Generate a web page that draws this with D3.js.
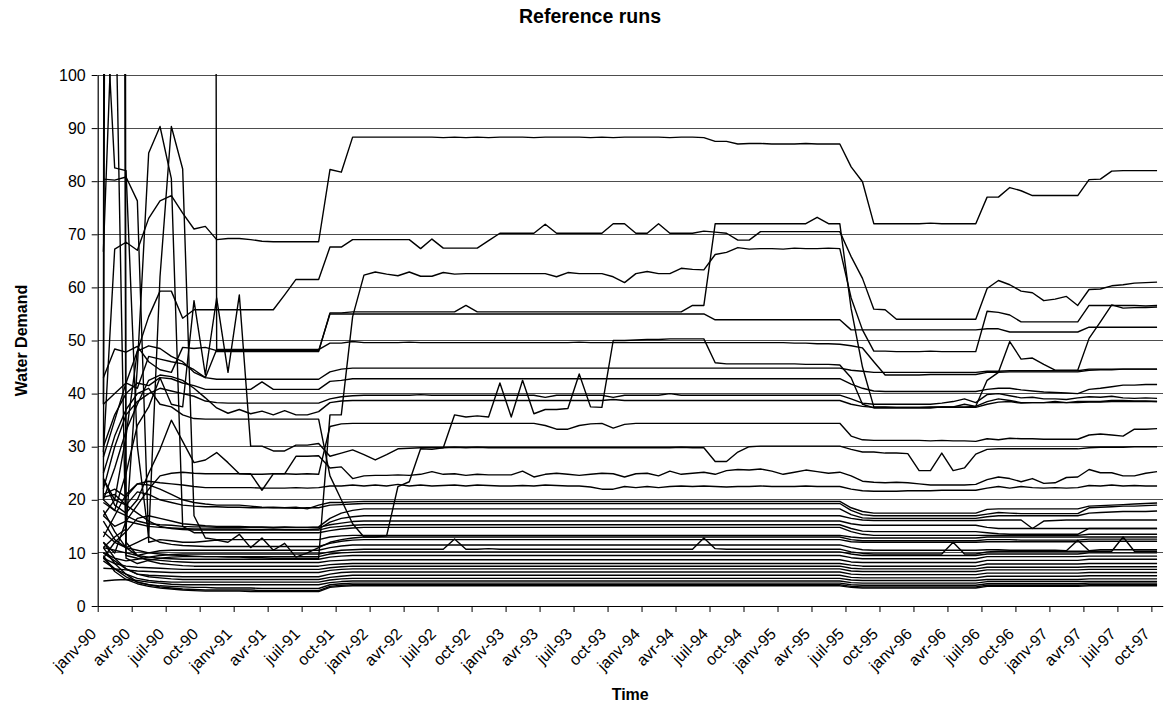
<!DOCTYPE html>
<html>
<head>
<meta charset="utf-8">
<script src="https://cdnjs.cloudflare.com/ajax/libs/d3/7.8.5/d3.min.js"></script>
<style>
  body { margin: 0; background: #fff; }
  svg { display: block; font-family: "Liberation Sans", Arial, sans-serif; }
</style>
</head>
<body>
<svg id="chart" width="1170" height="706"></svg>
<script>
// Monthly axis labels (one every three months)
const tickLabels = [
  "janv-90","avr-90","juil-90","oct-90","janv-91","avr-91","juil-91","oct-91",
  "janv-92","avr-92","juil-92","oct-92","janv-93","avr-93","juil-93","oct-93",
  "janv-94","avr-94","juil-94","oct-94","janv-95","avr-95","juil-95","oct-95",
  "janv-96","avr-96","juil-96","oct-96","janv-97","avr-97","juil-97","oct-97"
];
const yTickValues = [0,10,20,30,40,50,60,70,80,90,100];

// Water demand per run, monthly from janv-90 to oct-97 (one row per year)
const run01 = [
29.0,67.2,68.5,67.0,73.0,76.3,77.3,74.0,71.0,71.5,69.0,69.2,
69.2,69.0,68.7,68.6,68.6,68.6,68.6,68.6,82.2,81.7,88.3,88.3,
88.3,88.3,88.3,88.3,88.3,88.3,88.2,88.3,88.2,88.3,88.2,88.3,
88.3,88.3,88.2,88.3,88.3,88.3,88.3,88.2,88.3,88.2,88.3,88.3,
88.3,88.3,88.2,88.3,88.3,88.2,87.5,87.5,87.0,87.1,87.1,87.0,
87.0,87.0,87.1,87.0,87.0,87.0,82.7,79.9,72.0,72.0,72.0,72.0,
72.0,72.1,72.0,72.0,72.0,72.0,77.0,77.0,78.8,78.2,77.3,77.3,
77.3,77.3,77.3,80.3,80.4,81.9,82.0,82.0,82.0,82.0];
const run02 = [
24.0,20.0,32.0,48.0,54.5,59.3,59.3,54.2,55.8,55.8,55.8,55.8,
55.8,55.8,55.8,55.8,58.6,61.5,61.5,61.5,67.6,67.6,69.0,69.0,
69.0,69.0,69.0,69.0,67.3,69.1,67.4,67.4,67.4,67.4,68.8,70.2,
70.2,70.2,70.2,71.9,70.2,70.2,70.2,70.2,70.2,72.0,72.0,70.2,
70.2,72.0,70.2,70.2,70.2,70.6,70.4,70.2,68.9,68.9,70.5,70.5,
70.5,70.5,70.5,70.5,70.5,70.5,65.8,61.7,55.9,55.8,54.0,54.0,
54.0,54.0,54.0,54.0,54.0,54.0,59.8,61.3,60.5,59.3,59.0,57.5,
57.8,58.3,56.6,59.6,59.7,60.3,60.5,60.8,60.9,61.0];
const run03 = [
16.0,12.5,11.0,10.5,10.0,9.8,9.6,9.5,9.4,9.3,9.3,9.2,
9.2,9.1,9.1,9.0,9.0,9.0,9.0,9.0,36.0,36.0,54.5,62.3,
62.9,62.5,62.2,62.9,62.1,62.1,62.8,62.5,62.6,62.6,62.6,62.6,
62.6,62.6,62.6,62.6,62.0,62.8,62.6,62.6,62.6,62.0,60.9,62.6,
63.0,62.6,62.6,63.6,63.4,63.3,66.2,66.6,67.5,67.2,67.3,67.3,
67.2,67.4,67.3,67.3,67.4,67.3,58.0,52.0,48.0,48.0,47.9,47.9,
47.9,48.0,47.9,47.9,47.9,47.9,55.5,55.3,54.8,53.5,53.5,53.5,
53.5,53.5,53.5,56.6,56.6,56.6,56.6,56.6,56.5,56.6];
const run04 = [
1200,1200,1200,1200,1200,1200,1200,1200,1200,1200,47.9,47.9,
47.9,47.9,47.9,47.9,47.9,47.9,47.9,47.9,55.2,55.2,55.4,55.4,
55.4,55.4,55.4,55.4,55.4,55.4,55.4,55.4,56.6,55.4,55.4,55.4,
55.4,55.4,55.4,55.4,55.4,55.4,55.4,55.4,55.4,55.4,55.4,55.4,
55.4,55.4,55.4,55.4,56.6,56.6,72.0,72.0,72.0,72.0,72.0,72.0,
72.0,72.0,72.0,73.2,72.0,72.0,56.0,45.0,37.5,37.5,37.4,37.4,
37.4,37.5,37.5,37.5,37.5,37.6,42.5,44.0,49.8,46.5,46.7,45.5,
44.4,44.4,44.4,50.4,53.5,56.7,56.1,56.2,56.2,56.3];
const run05 = [
43.0,48.4,47.8,48.9,46.0,44.5,44.0,48.7,48.5,48.7,48.1,48.1,
48.1,48.1,48.1,48.1,48.1,48.1,48.1,48.1,55.0,55.0,55.0,55.0,
55.0,55.0,55.0,55.0,55.0,55.0,55.0,55.0,55.0,55.0,55.0,55.0,
55.0,55.0,55.0,55.0,55.0,55.0,55.0,55.0,55.0,55.0,55.0,55.0,
55.0,55.0,55.0,55.0,55.0,55.0,53.9,53.9,53.9,53.9,53.9,53.9,
53.9,53.9,53.9,53.9,53.9,53.9,52.0,52.0,52.0,52.0,52.0,52.0,
52.0,52.0,52.0,52.0,52.0,52.0,52.2,52.2,51.6,51.6,51.6,51.6,
51.6,51.6,51.6,52.5,52.5,52.5,52.5,52.5,52.5,52.5];
const run06 = [
28.0,35.0,42.0,48.0,49.0,48.5,47.0,46.0,44.0,43.0,48.3,48.3,
48.3,48.3,48.3,48.3,48.3,48.3,48.3,48.3,49.5,49.5,49.8,49.6,
49.6,49.6,49.6,49.7,49.6,49.6,49.6,49.6,49.6,49.6,49.6,49.6,
49.6,49.6,49.6,49.6,49.6,49.6,49.7,49.6,49.6,49.6,49.6,49.6,
49.6,49.6,49.6,49.6,49.6,49.6,49.6,49.6,49.6,49.6,49.6,49.6,
49.6,49.5,49.5,49.4,49.4,49.3,49.0,48.6,46.0,43.5,43.5,43.5,
43.5,43.6,43.6,43.6,43.6,43.6,44.0,44.0,44.1,44.1,44.1,44.1,
44.1,44.1,44.1,44.4,44.5,44.5,44.6,44.6,44.6,44.6];
const run07 = [
38.0,40.0,42.0,41.0,47.0,46.5,46.0,45.6,44.5,43.0,42.7,42.7,
42.7,42.7,42.7,42.7,42.7,42.7,42.7,42.7,44.1,44.6,44.8,44.8,
44.8,44.8,44.8,44.8,44.8,44.8,44.8,44.8,44.8,44.8,44.8,44.8,
44.8,44.8,44.8,44.8,44.8,44.8,44.8,44.8,44.8,44.8,44.8,44.8,
44.8,44.8,44.8,44.8,44.8,44.8,44.8,44.8,44.8,44.8,44.8,44.8,
44.8,44.8,44.8,44.8,44.8,44.8,44.4,44.2,44.0,44.0,44.0,44.0,
44.0,44.0,44.0,44.0,44.0,44.0,44.2,44.2,44.3,44.3,44.3,44.3,
44.3,44.3,44.3,44.6,44.6,44.6,44.6,44.6,44.6,44.6];
const run08 = [
25.0,32.0,37.0,40.0,41.0,38.0,37.5,36.0,35.3,35.2,35.2,35.2,
35.2,35.2,35.2,35.2,35.2,35.2,35.2,35.2,24.5,20.0,15.5,13.0,
13.0,13.2,22.5,23.4,29.6,29.5,29.8,36.0,35.6,35.8,35.6,42.0,
35.6,42.5,36.2,37.0,37.0,37.2,43.7,37.5,37.4,50.0,50.0,50.1,
50.2,50.2,50.3,50.3,50.3,50.3,45.8,45.6,45.6,45.6,45.6,45.6,
45.6,45.6,45.5,45.5,45.5,45.4,43.0,38.0,37.3,37.3,37.3,37.3,
37.3,37.3,37.5,37.5,38.0,37.6,38.5,39.0,38.7,38.3,38.3,38.3,
38.5,38.3,38.5,38.5,38.5,38.7,38.7,38.6,38.6,38.5];
const run09 = [
30.0,36.0,40.0,42.0,41.5,43.0,42.8,42.0,41.5,40.8,40.8,40.8,
40.8,40.8,42.2,40.8,40.8,40.8,40.8,40.8,42.3,42.5,42.8,42.8,
42.8,42.8,42.8,42.8,42.8,42.8,42.8,42.8,42.8,42.8,42.8,42.8,
42.8,42.8,42.8,42.8,42.8,42.8,42.8,42.8,42.8,42.8,42.8,42.8,
42.8,42.8,42.8,42.8,42.8,42.8,42.8,42.8,42.8,42.8,42.8,42.8,
42.8,42.8,42.8,42.8,42.8,42.8,41.8,41.0,40.5,40.4,40.4,40.4,
40.4,40.4,40.4,40.4,40.4,40.4,40.8,41.0,41.0,40.7,40.5,40.3,
40.2,40.1,40.0,40.8,41.0,41.3,41.6,41.6,41.7,41.7];
const run10 = [
22.0,30.0,36.0,38.5,40.0,41.0,40.5,40.0,39.5,38.6,38.3,38.2,
38.2,38.2,38.2,38.2,38.2,38.2,38.2,38.2,39.0,39.4,39.6,39.7,
39.7,39.7,39.7,39.7,39.8,39.7,39.7,39.7,39.7,39.7,39.7,39.7,
39.7,39.7,39.7,39.3,39.7,39.7,39.7,39.7,39.7,39.3,39.7,39.7,
39.7,39.7,40.0,39.7,39.7,39.7,39.7,39.7,39.7,39.7,39.7,39.7,
39.7,39.7,39.7,39.7,39.7,39.7,39.0,38.2,38.0,38.0,38.0,38.0,
38.0,38.0,38.2,38.5,39.0,38.3,39.8,40.0,39.6,39.2,39.3,39.0,
39.0,38.9,39.2,39.4,39.3,39.5,39.2,39.1,39.2,39.1];
const run11 = [
20.0,26.0,33.0,38.0,42.5,43.5,43.2,42.5,41.0,39.2,37.3,36.3,
37.0,36.2,36.7,36.0,36.8,36.0,36.0,36.6,38.3,38.6,38.7,38.7,
38.7,38.7,38.7,38.7,38.7,38.7,38.7,38.7,38.7,38.7,38.7,38.7,
38.7,38.7,38.7,38.7,38.7,38.7,38.7,38.7,38.7,38.9,38.7,38.7,
38.7,38.7,38.7,38.7,38.7,38.7,38.7,38.7,38.7,38.7,38.7,38.7,
38.7,38.7,38.7,38.7,38.7,38.7,38.0,37.6,37.4,37.4,37.4,37.4,
37.4,37.4,37.4,37.4,37.4,37.4,38.0,38.4,38.5,38.2,38.3,38.3,
38.3,38.3,38.3,38.4,38.4,38.5,38.5,38.5,38.5,38.5];
const run12 = [
17.0,15.0,16.0,19.0,22.0,24.5,25.0,25.2,25.0,24.9,24.9,24.9,
24.9,24.8,24.8,24.9,24.9,24.8,24.9,24.8,33.8,34.3,34.4,34.4,
34.4,34.4,34.4,34.4,34.4,34.4,34.4,34.4,34.4,34.4,34.4,34.4,
34.4,34.4,34.4,34.0,33.3,33.3,34.0,34.3,34.4,33.5,34.2,34.4,
34.4,34.4,34.4,34.4,34.4,34.4,34.4,34.4,34.4,34.4,34.4,34.4,
34.4,34.4,34.4,34.4,34.4,34.4,32.0,31.3,31.2,31.2,31.2,31.2,
31.2,31.1,31.2,31.1,31.1,31.0,31.5,31.3,31.6,31.5,31.5,31.4,
31.4,31.4,31.4,32.2,32.4,32.2,32.0,33.3,33.3,33.4];
const run13 = [
20.0,18.0,25.0,34.0,37.5,43.0,38.0,37.5,57.5,43.5,58.0,44.0,
58.6,30.1,30.1,29.2,29.2,30.3,30.3,30.6,28.2,28.8,29.4,28.5,
27.5,28.5,29.6,29.7,29.8,29.8,29.8,29.9,29.8,29.9,29.8,29.8,
29.8,29.8,29.8,29.8,29.8,29.8,29.8,29.8,29.8,29.8,29.8,29.8,
29.8,29.8,29.8,29.9,29.8,29.8,27.2,27.2,29.0,30.0,30.1,30.1,
30.1,30.1,30.1,30.1,30.1,30.1,29.5,29.0,29.0,28.8,28.8,28.7,
25.5,25.5,28.8,25.5,26.0,28.6,29.5,29.6,29.6,29.6,29.6,29.6,
29.6,29.6,29.6,29.8,29.9,29.9,29.9,30.0,30.0,30.0];
const run14 = [
24.0,19.0,17.5,20.0,25.0,29.5,35.0,31.0,27.0,27.5,28.9,27.0,
24.9,24.9,21.8,24.9,24.9,28.2,28.2,28.3,26.0,26.2,24.0,24.5,
24.6,24.6,24.7,24.6,24.8,25.3,24.8,24.9,24.6,24.8,24.7,24.7,
24.7,25.4,24.3,24.8,25.0,24.8,24.6,24.8,25.0,24.9,24.3,24.9,
25.0,24.5,25.4,24.8,25.0,25.2,24.8,25.5,25.7,25.6,25.8,25.4,
24.8,25.2,25.6,25.3,25.0,25.2,24.5,23.5,23.3,23.2,23.3,23.2,
23.0,22.8,22.8,22.8,22.8,22.9,23.8,24.3,24.0,23.4,24.0,23.1,
23.2,24.2,24.3,25.7,25.1,25.1,24.5,24.5,25.0,25.3];
const run15 = [
21.0,22.0,20.5,23.0,23.5,23.2,23.0,22.8,22.5,22.3,22.3,22.3,
22.3,22.3,22.2,22.2,22.2,22.3,22.2,22.3,22.6,22.6,22.8,22.6,
22.8,22.6,22.9,22.6,22.8,22.6,22.7,22.8,22.6,22.8,22.7,22.6,
22.6,22.7,22.6,22.8,22.7,22.6,22.6,22.4,22.0,22.0,22.5,22.3,
22.5,22.3,22.5,22.6,22.5,22.6,22.5,22.4,22.5,22.5,22.6,22.5,
22.5,22.5,22.6,22.5,22.5,22.5,22.0,21.7,21.6,21.6,21.6,21.7,
21.7,21.7,21.8,21.8,21.8,21.8,22.2,22.5,22.2,22.5,22.3,22.2,
22.3,22.2,22.3,22.7,22.6,22.8,22.6,22.7,22.6,22.6];
const run16 = [
13.0,17.0,21.0,23.0,22.8,22.0,21.0,20.0,19.5,19.2,19.0,19.0,
19.0,18.8,18.6,18.5,18.5,18.6,18.3,19.0,19.5,19.5,19.6,19.7,
19.7,19.7,19.7,19.7,19.7,19.7,19.7,19.7,19.7,19.7,19.7,19.7,
19.7,19.7,19.7,19.7,19.7,19.7,19.7,19.7,19.7,19.7,19.7,19.7,
19.7,19.7,19.7,19.7,19.7,19.7,19.7,19.7,19.7,19.7,19.7,19.7,
19.7,19.7,19.7,19.7,19.7,19.7,18.5,17.8,17.5,17.5,17.5,17.5,
17.5,17.5,17.5,17.5,17.5,17.5,18.2,18.3,18.3,18.3,18.3,18.3,
18.3,18.3,18.3,18.8,18.9,19.0,19.1,19.2,19.3,19.4];
const run17 = [
17.0,20.0,19.0,21.5,21.0,20.0,19.5,19.0,18.8,18.7,18.7,18.6,
18.6,18.5,18.5,18.6,18.5,18.4,18.5,18.5,19.0,19.1,19.2,19.3,
19.3,19.3,19.3,19.3,19.3,19.3,19.3,19.3,19.3,19.3,19.3,19.3,
19.3,19.3,19.3,19.3,19.3,19.3,19.3,19.3,19.3,19.3,19.3,19.3,
19.3,19.3,19.3,19.3,19.3,19.3,19.3,19.3,19.3,19.3,19.3,19.3,
19.3,19.3,19.3,19.3,19.3,19.3,18.0,17.2,17.0,17.0,17.0,17.0,
17.0,17.0,17.0,17.0,17.0,17.0,17.3,17.6,17.5,17.4,17.4,17.4,
17.4,17.4,17.4,18.5,18.6,18.7,18.8,18.8,18.9,19.0];
const run18 = [
9.0,12.0,14.0,16.5,17.0,16.5,16.0,15.5,15.3,15.1,15.0,15.0,
15.0,14.9,14.9,14.8,14.9,14.8,14.8,14.9,16.5,17.5,18.0,18.3,
18.3,18.3,18.3,18.3,18.3,18.3,18.3,18.3,18.3,18.3,18.3,18.3,
18.3,18.3,18.3,18.3,18.3,18.3,18.3,18.3,18.3,18.3,18.3,18.3,
18.3,18.3,18.3,18.3,18.3,18.3,18.3,18.3,18.3,18.3,18.3,18.3,
18.3,18.3,18.3,18.3,18.3,18.3,17.2,16.6,16.5,16.5,16.5,16.5,
16.5,16.5,16.5,16.5,16.5,16.5,16.8,17.0,17.0,17.0,17.0,17.0,
17.0,17.0,17.0,17.5,17.6,17.7,17.8,17.8,17.8,17.9];
const run19 = [
12.0,10.0,16.0,15.5,15.0,14.8,14.7,14.6,14.5,14.5,14.5,14.5,
14.5,14.4,14.4,14.5,14.4,14.4,14.4,14.5,15.8,16.5,16.8,17.0,
17.0,17.0,17.0,17.0,17.0,17.0,17.0,17.0,17.0,17.0,17.0,17.0,
17.0,17.0,17.0,17.0,17.0,17.0,17.0,17.0,17.0,17.0,17.0,17.0,
17.0,17.0,17.0,17.0,17.0,17.0,17.0,17.0,17.0,17.0,17.0,17.0,
17.0,17.0,17.0,17.0,17.0,17.0,16.5,16.2,16.1,16.1,16.1,16.1,
16.1,16.1,16.1,16.1,16.1,16.1,16.2,16.2,16.2,16.2,14.6,16.0,
16.1,16.2,16.2,16.2,16.2,16.2,16.2,16.2,16.2,16.2];
const run20 = [
19.5,18.0,17.0,16.0,15.5,15.3,15.2,15.0,14.9,14.9,14.8,14.8,
14.8,14.8,14.8,14.8,14.8,14.8,14.8,14.8,15.3,15.6,15.9,16.0,
16.0,16.0,16.0,16.0,16.0,16.0,16.0,16.0,16.0,16.0,16.0,16.0,
16.0,16.0,16.0,16.0,16.0,16.0,16.0,16.0,16.0,16.0,16.0,16.0,
16.0,16.0,16.0,16.0,16.0,16.0,16.0,16.0,16.0,16.0,16.0,16.0,
16.0,16.0,16.0,16.0,16.0,16.0,15.5,15.2,15.2,15.2,15.2,15.2,
15.2,15.2,15.2,15.2,15.2,15.2,14.8,14.6,14.6,14.6,14.6,14.6,
14.6,14.6,14.6,14.6,14.6,14.6,14.6,14.6,14.6,14.6];
const run21 = [
20.5,21.0,19.0,17.5,16.0,15.0,14.6,14.4,14.3,14.3,14.3,14.3,
14.3,14.3,14.3,14.3,14.3,14.3,14.3,14.3,14.8,15.0,15.2,15.3,
15.3,15.3,15.3,15.3,15.3,15.3,15.3,15.3,15.3,15.3,15.3,15.3,
15.3,15.3,15.3,15.3,15.3,15.3,15.3,15.3,15.3,15.3,15.3,15.3,
15.3,15.3,15.3,15.3,15.3,15.3,15.3,15.3,15.3,15.3,15.3,15.3,
15.3,15.3,15.3,15.3,15.3,15.3,14.6,14.1,14.0,14.0,14.0,14.0,
14.0,14.0,14.0,14.0,14.0,14.0,13.8,13.6,13.5,13.5,13.5,13.5,
13.5,13.5,13.5,14.6,14.6,14.6,14.6,14.6,14.6,14.6];
const run22 = [
11.0,13.0,14.5,45.0,85.3,90.3,80.5,15.0,13.8,13.8,13.8,13.8,
13.8,13.8,13.8,13.8,13.8,13.8,13.8,13.8,14.2,14.5,14.7,14.8,
14.8,14.8,14.8,14.8,14.8,14.8,14.8,14.8,14.8,14.8,14.8,14.8,
14.8,14.8,14.8,14.8,14.8,14.8,14.8,14.8,14.8,14.8,14.8,14.8,
14.8,14.8,14.8,14.8,14.8,14.8,14.8,14.8,14.8,14.8,14.8,14.8,
14.8,14.8,14.8,14.8,14.8,14.8,14.0,13.5,13.3,13.3,13.3,13.3,
13.3,13.3,13.3,13.3,13.3,13.3,13.3,13.3,13.3,13.3,13.3,13.3,
13.3,13.3,13.3,13.5,13.5,13.5,13.5,13.5,13.5,13.5];
const run23 = [
14.0,12.0,11.0,12.0,13.0,62.0,90.3,82.3,17.0,12.8,12.5,12.5,
12.5,12.5,12.5,12.5,12.5,12.5,12.5,12.5,13.0,13.2,13.3,13.3,
13.3,13.3,13.3,13.3,13.3,13.3,13.3,13.3,13.3,13.3,13.3,13.3,
13.3,13.3,13.3,13.3,13.3,13.3,13.3,13.3,13.3,13.3,13.3,13.3,
13.3,13.3,13.3,13.3,13.3,13.3,13.3,13.3,13.3,13.3,13.3,13.3,
13.3,13.3,13.3,13.3,13.3,13.3,13.0,12.8,12.8,12.8,12.8,12.8,
12.8,12.8,12.8,12.8,12.8,12.8,13.0,13.0,13.0,13.0,13.0,13.0,
13.0,13.0,13.0,13.0,13.0,13.0,13.0,13.0,13.0,13.0];
const run24 = [
80.4,80.2,80.8,76.3,12.0,12.5,12.3,12.0,12.0,12.2,12.4,12.0,
13.5,11.0,12.8,10.5,11.8,9.2,10.0,11.0,12.0,12.5,12.8,13.0,
13.0,13.0,13.0,13.0,13.0,13.0,13.0,13.0,13.0,13.0,13.0,13.0,
13.0,13.0,13.0,13.0,13.0,13.0,13.0,13.0,13.0,13.0,13.0,13.0,
13.0,13.0,13.0,13.0,13.0,13.0,13.0,13.0,13.0,13.0,13.0,13.0,
13.0,13.0,13.0,13.0,13.0,13.0,12.5,12.3,12.3,12.3,12.3,12.3,
12.3,12.3,12.3,12.3,12.3,12.3,12.5,12.5,12.5,12.4,12.4,12.4,
12.4,12.4,12.4,12.6,12.6,12.6,12.6,12.6,12.6,12.6];
const run25 = [
123.0,82.5,82.0,30.0,13.0,12.0,11.6,11.4,11.3,11.2,11.2,11.2,
11.2,11.2,11.2,11.2,11.2,11.2,11.2,11.2,11.8,12.2,12.4,12.5,
12.5,12.5,12.5,12.5,12.5,12.5,12.5,12.5,12.5,12.5,12.5,12.5,
12.5,12.5,12.5,12.5,12.5,12.5,12.5,12.5,12.5,12.5,12.5,12.5,
12.5,12.5,12.5,12.5,12.5,12.5,12.5,12.5,12.5,12.5,12.5,12.5,
12.5,12.5,12.5,12.5,12.5,12.5,12.1,12.0,12.0,12.0,12.0,12.0,
12.0,12.0,12.0,12.0,12.0,12.0,12.1,12.1,12.1,12.1,12.1,12.1,
12.1,12.1,12.1,12.2,12.2,12.2,12.2,12.2,12.2,12.2];
const run26 = [
38.0,2000,12.0,9.5,10.0,10.4,10.5,10.5,10.5,10.5,10.5,10.5,
10.5,10.5,10.5,10.5,10.5,10.5,10.5,10.5,11.0,11.3,11.5,11.5,
11.5,11.5,11.5,11.5,11.5,11.5,11.5,11.5,11.5,11.5,11.5,11.5,
11.5,11.5,11.5,11.5,11.5,11.5,11.5,11.5,11.5,11.5,11.5,11.5,
11.5,11.5,11.5,11.5,11.5,11.5,11.5,11.5,11.5,11.5,11.5,11.5,
11.5,11.5,11.5,11.5,11.5,11.5,11.0,10.6,10.5,10.5,10.5,10.5,
10.5,10.5,10.5,10.5,10.5,10.5,10.6,10.6,10.5,10.5,10.5,10.5,
10.5,10.4,12.4,10.4,10.6,10.6,10.6,10.6,10.6,10.6];
const run27 = [
10.0,9.0,8.5,8.8,9.2,9.5,9.7,9.8,9.8,9.8,9.8,9.8,
9.8,9.8,9.8,9.8,9.8,9.8,9.8,9.8,10.2,10.5,10.6,10.7,
10.7,10.7,10.7,10.7,10.7,10.7,10.7,12.6,10.7,10.7,10.8,10.7,
10.7,10.7,10.7,10.7,10.7,10.7,10.7,10.7,10.7,10.7,10.7,10.7,
10.7,10.7,10.7,10.7,10.7,12.8,10.8,10.7,10.7,10.7,10.7,10.7,
10.7,10.7,10.7,10.7,10.7,10.7,10.2,9.9,9.8,9.8,9.8,9.8,
9.8,9.8,9.8,12.0,9.8,9.8,10.2,10.3,10.3,10.3,10.3,10.3,
10.3,10.3,10.3,10.3,10.3,10.3,13.0,10.3,10.3,10.3];
const run28 = [
20.0,900,9.0,8.0,8.6,9.0,9.2,9.3,9.3,9.3,9.3,9.3,
9.3,9.3,9.3,9.3,9.3,9.3,9.3,9.3,9.8,10.0,10.1,10.2,
10.2,10.2,10.2,10.2,10.2,10.2,10.2,10.2,10.2,10.2,10.2,10.2,
10.2,10.2,10.2,10.2,10.2,10.2,10.2,10.2,10.2,10.2,10.2,10.2,
10.2,10.2,10.2,10.2,10.2,10.2,10.2,10.2,10.2,10.2,10.2,10.2,
10.2,10.2,10.2,10.2,10.2,10.2,9.8,9.5,9.5,9.5,9.5,9.5,
9.5,9.5,9.5,9.5,9.5,9.5,9.8,9.8,9.8,9.8,9.8,9.8,
9.8,9.8,9.8,10.0,10.0,10.0,10.0,10.0,10.0,10.0];
const run29 = [
11.0,10.5,10.0,9.5,9.2,9.0,8.9,8.8,8.8,8.8,8.8,8.8,
8.8,8.8,8.8,8.8,8.8,8.8,8.8,8.8,9.2,9.4,9.5,9.5,
9.5,9.5,9.5,9.5,9.5,9.5,9.5,9.5,9.5,9.5,9.5,9.5,
9.5,9.5,9.5,9.5,9.5,9.5,9.5,9.5,9.5,9.5,9.5,9.5,
9.5,9.5,9.5,9.5,9.5,9.5,9.5,9.5,9.5,9.5,9.5,9.5,
9.5,9.5,9.5,9.5,9.5,9.5,9.1,8.9,8.9,8.9,8.9,8.9,
8.9,8.9,8.9,8.9,8.9,8.9,9.3,9.3,9.3,9.3,9.3,9.3,
9.3,9.3,9.3,9.4,9.4,9.4,9.4,9.4,9.4,9.4];
const run30 = [
66.7,124.0,9.5,9.0,8.8,8.6,8.4,8.3,8.2,8.2,8.2,8.2,
8.2,8.2,8.2,8.2,8.2,8.2,8.2,8.2,8.5,8.6,8.7,8.7,
8.7,8.7,8.7,8.7,8.7,8.7,8.7,8.7,8.7,8.7,8.7,8.7,
8.7,8.7,8.7,8.7,8.7,8.7,8.7,8.7,8.7,8.7,8.7,8.7,
8.7,8.7,8.7,8.7,8.7,8.7,8.7,8.7,8.7,8.7,8.7,8.7,
8.7,8.7,8.7,8.7,8.7,8.7,8.3,8.2,8.2,8.2,8.2,8.2,
8.2,8.2,8.2,8.2,8.2,8.2,8.6,8.6,8.6,8.6,8.6,8.6,
8.6,8.6,8.6,8.8,8.8,8.8,8.8,8.8,8.8,8.8];
const run31 = [
18.0,14.0,11.0,9.5,8.5,8.0,7.8,7.6,7.5,7.5,7.5,7.5,
7.5,7.5,7.5,7.5,7.5,7.5,7.5,7.5,7.8,7.9,8.0,8.0,
8.0,8.0,8.0,8.0,8.0,8.0,8.0,8.0,8.0,8.0,8.0,8.0,
8.0,8.0,8.0,8.0,8.0,8.0,8.0,8.0,8.0,8.0,8.0,8.0,
8.0,8.0,8.0,8.0,8.0,8.0,8.0,8.0,8.0,8.0,8.0,8.0,
8.0,8.0,8.0,8.0,8.0,8.0,7.7,7.5,7.5,7.5,7.5,7.5,
7.5,7.5,7.5,7.5,7.5,7.5,7.9,7.9,7.9,7.9,7.9,7.9,
7.9,7.9,7.9,8.0,8.0,8.0,8.0,8.0,8.0,8.0];
const run32 = [
9.0,8.0,7.5,7.3,7.2,7.1,7.0,6.9,6.9,6.9,6.9,6.9,
6.9,6.9,6.9,6.9,6.9,6.9,6.9,6.9,7.2,7.4,7.5,7.5,
7.5,7.5,7.5,7.5,7.5,7.5,7.5,7.5,7.5,7.5,7.5,7.5,
7.5,7.5,7.5,7.5,7.5,7.5,7.5,7.5,7.5,7.5,7.5,7.5,
7.5,7.5,7.5,7.5,7.5,7.5,7.5,7.5,7.5,7.5,7.5,7.5,
7.5,7.5,7.5,7.5,7.5,7.5,7.1,7.0,7.0,7.0,7.0,7.0,
7.0,7.0,7.0,7.0,7.0,7.0,7.3,7.3,7.3,7.3,7.3,7.3,
7.3,7.3,7.3,7.4,7.4,7.4,7.4,7.4,7.4,7.4];
const run33 = [
7.1,7.0,6.8,6.6,6.5,6.4,6.3,6.3,6.3,6.3,6.3,6.3,
6.3,6.3,6.3,6.3,6.3,6.3,6.3,6.3,6.7,6.9,7.0,7.0,
7.0,7.0,7.0,7.0,7.0,7.0,7.0,7.0,7.0,7.0,7.0,7.0,
7.0,7.0,7.0,7.0,7.0,7.0,7.0,7.0,7.0,7.0,7.0,7.0,
7.0,7.0,7.0,7.0,7.0,7.0,7.0,7.0,7.0,7.0,7.0,7.0,
7.0,7.0,7.0,7.0,7.0,7.0,6.6,6.5,6.5,6.5,6.5,6.5,
6.5,6.5,6.5,6.5,6.5,6.5,6.8,6.8,6.8,6.8,6.8,6.8,
6.8,6.8,6.8,6.9,6.9,6.9,6.9,6.9,6.9,6.9];
const run34 = [
10.0,8.5,7.0,6.0,5.8,5.7,5.6,5.5,5.5,5.5,5.5,5.5,
5.5,5.5,5.5,5.5,5.5,5.5,5.5,5.5,6.0,6.3,6.4,6.4,
6.4,6.4,6.4,6.4,6.4,6.4,6.4,6.4,6.4,6.4,6.4,6.4,
6.4,6.4,6.4,6.4,6.4,6.4,6.4,6.4,6.4,6.4,6.4,6.4,
6.4,6.4,6.4,6.4,6.4,6.4,6.4,6.4,6.4,6.4,6.4,6.4,
6.4,6.4,6.4,6.4,6.4,6.4,6.0,5.9,5.9,5.9,5.9,5.9,
5.9,5.9,5.9,5.9,5.9,5.9,6.2,6.2,6.2,6.2,6.2,6.2,
6.2,6.2,6.2,6.3,6.3,6.3,6.3,6.3,6.3,6.3];
const run35 = [
12.0,9.0,7.0,6.0,5.5,5.3,5.1,5.0,5.0,5.0,5.0,5.0,
5.0,5.0,5.0,5.0,5.0,5.0,5.0,5.0,5.4,5.6,5.8,5.8,
5.8,5.8,5.8,5.8,5.8,5.8,5.8,5.8,5.8,5.8,5.8,5.8,
5.8,5.8,5.8,5.8,5.8,5.8,5.8,5.8,5.8,5.8,5.8,5.8,
5.8,5.8,5.8,5.8,5.8,5.8,5.8,5.8,5.8,5.8,5.8,5.8,
5.8,5.8,5.8,5.8,5.8,5.8,5.4,5.3,5.3,5.3,5.3,5.3,
5.3,5.3,5.3,5.3,5.3,5.3,5.6,5.6,5.6,5.6,5.6,5.6,
5.6,5.6,5.6,5.7,5.7,5.7,5.7,5.7,5.7,5.7];
const run36 = [
8.5,7.0,6.0,5.2,4.8,4.6,4.5,4.5,4.5,4.5,4.5,4.5,
4.5,4.5,4.5,4.5,4.5,4.5,4.5,4.5,4.9,5.1,5.2,5.2,
5.2,5.2,5.2,5.2,5.2,5.2,5.2,5.2,5.2,5.2,5.2,5.2,
5.2,5.2,5.2,5.2,5.2,5.2,5.2,5.2,5.2,5.2,5.2,5.2,
5.2,5.2,5.2,5.2,5.2,5.2,5.2,5.2,5.2,5.2,5.2,5.2,
5.2,5.2,5.2,5.2,5.2,5.2,4.9,4.8,4.8,4.8,4.8,4.8,
4.8,4.8,4.8,4.8,4.8,4.8,5.0,5.0,5.0,5.0,5.0,5.0,
5.0,5.0,5.0,5.1,5.1,5.1,5.1,5.1,5.1,5.1];
const run37 = [
4.7,4.9,5.0,4.8,4.5,4.3,4.1,4.0,4.0,4.0,4.0,4.0,
4.0,4.0,4.0,4.0,4.0,4.0,4.0,4.0,4.4,4.6,4.7,4.7,
4.7,4.7,4.7,4.7,4.7,4.7,4.7,4.7,4.7,4.7,4.7,4.7,
4.7,4.7,4.7,4.7,4.7,4.7,4.7,4.7,4.7,4.7,4.7,4.7,
4.7,4.7,4.7,4.7,4.7,4.7,4.7,4.7,4.7,4.7,4.7,4.7,
4.7,4.7,4.7,4.7,4.7,4.7,4.4,4.3,4.3,4.3,4.3,4.3,
4.3,4.3,4.3,4.3,4.3,4.3,4.6,4.6,4.6,4.6,4.6,4.6,
4.6,4.6,4.6,4.6,4.6,4.6,4.6,4.6,4.6,4.6];
const run38 = [
9.0,7.0,5.5,4.5,4.0,3.8,3.7,3.6,3.5,3.5,3.4,3.4,
3.4,3.4,3.3,3.3,3.3,3.3,3.3,3.3,4.0,4.2,4.3,4.3,
4.3,4.3,4.3,4.3,4.3,4.3,4.3,4.3,4.3,4.3,4.3,4.3,
4.3,4.3,4.3,4.3,4.3,4.3,4.3,4.3,4.3,4.3,4.3,4.3,
4.3,4.3,4.3,4.3,4.3,4.3,4.3,4.3,4.3,4.3,4.3,4.3,
4.3,4.3,4.3,4.3,4.3,4.3,4.0,3.9,3.9,3.9,3.9,3.9,
3.9,3.9,3.9,3.9,3.9,3.9,4.2,4.2,4.2,4.2,4.2,4.2,
4.2,4.2,4.2,4.3,4.3,4.3,4.3,4.3,4.3,4.3];
const run39 = [
11.0,8.0,6.0,4.5,4.0,3.6,3.4,3.2,3.1,3.0,3.0,3.0,
3.0,3.0,2.9,2.9,2.9,2.9,2.9,2.9,3.7,3.9,4.0,4.0,
4.0,4.0,4.0,4.0,4.0,4.0,4.0,4.0,4.0,4.0,4.0,4.0,
4.0,4.0,4.0,4.0,4.0,4.0,4.0,4.0,4.0,4.0,4.0,4.0,
4.0,4.0,4.0,4.0,4.0,4.0,4.0,4.0,4.0,4.0,4.0,4.0,
4.0,4.0,4.0,4.0,4.0,4.0,3.7,3.6,3.6,3.6,3.6,3.6,
3.6,3.6,3.6,3.6,3.6,3.6,3.9,3.9,3.9,3.9,3.9,3.9,
3.9,3.9,3.9,4.0,4.0,4.0,4.0,4.0,4.0,4.0];
const run40 = [
9.5,6.5,5.0,4.2,3.7,3.4,3.2,3.0,2.9,2.8,2.8,2.8,
2.8,2.7,2.7,2.7,2.7,2.7,2.7,2.7,3.5,3.7,3.8,3.8,
3.8,3.8,3.8,3.8,3.8,3.8,3.8,3.8,3.8,3.8,3.8,3.8,
3.8,3.8,3.8,3.8,3.8,3.8,3.8,3.8,3.8,3.8,3.8,3.8,
3.8,3.8,3.8,3.8,3.8,3.8,3.8,3.8,3.8,3.8,3.8,3.8,
3.8,3.8,3.8,3.8,3.8,3.8,3.5,3.4,3.4,3.4,3.4,3.4,
3.4,3.4,3.4,3.4,3.4,3.4,3.7,3.7,3.7,3.7,3.7,3.7,
3.7,3.7,3.7,3.8,3.8,3.8,3.8,3.8,3.8,3.8];

const runs = [run01,run02,run03,run04,run05,run06,run07,run08,run09,run10,
  run11,run12,run13,run14,run15,run16,run17,run18,run19,run20,
  run21,run22,run23,run24,run25,run26,run27,run28,run29,run30,
  run31,run32,run33,run34,run35,run36,run37,run38,run39,run40];

// ---- layout ----
const W = 1170, H = 706;
const plotLeft = 97.7, plotTop = 75, plotBottom = 606;
const monthWidth = 11.33;
const nMonths = run01.length;
const plotRight = plotLeft + nMonths * monthWidth;
const font = "Liberation Sans, Arial, sans-serif";

const svg = d3.select("#chart");
svg.append("rect").attr("width", W).attr("height", H).attr("fill", "#fff");

const x = d3.scaleLinear().domain([0, nMonths]).range([plotLeft, plotRight]);
const y = d3.scaleLinear().domain([0, 100]).range([plotBottom, plotTop]);

// horizontal gridlines
svg.append("g")
  .selectAll("line")
  .data(yTickValues.filter(v => v > 0))
  .join("line")
  .attr("x1", plotLeft).attr("x2", plotRight)
  .attr("y1", d => y(d)).attr("y2", d => y(d))
  .attr("stroke", "#4d4d4d").attr("stroke-width", 1)
  .attr("shape-rendering", "crispEdges");

// series, clipped to the plot area
svg.append("clipPath").attr("id", "plotClip")
  .append("rect")
  .attr("x", plotLeft).attr("y", plotTop - 1)
  .attr("width", plotRight - plotLeft).attr("height", plotBottom - plotTop + 1);

const line = d3.line()
  .x((d, i) => x(i + 0.5))
  .y(d => y(d));

svg.append("g").attr("clip-path", "url(#plotClip)")
  .selectAll("path")
  .data(runs)
  .join("path")
  .attr("d", line)
  .attr("fill", "none")
  .attr("stroke", "#000")
  .attr("stroke-width", 1.4)
  .attr("stroke-linejoin", "round");

// y axis
const yAxis = svg.append("g")
  .attr("transform", `translate(${plotLeft},0)`)
  .call(d3.axisLeft(y).tickValues(yTickValues).tickSize(6).tickPadding(6).tickSizeOuter(0));
yAxis.select(".domain").attr("stroke", "#000").attr("stroke-width", 1.2);
yAxis.selectAll(".tick line").attr("stroke", "#000");
yAxis.selectAll(".tick text")
  .attr("font-family", font)
  .attr("font-size", 16).attr("fill", "#000");

// x axis
const tickIdx = d3.range(0, nMonths, 3);
const xAxis = svg.append("g")
  .attr("transform", `translate(0,${plotBottom})`)
  .call(d3.axisBottom(x).tickValues(tickIdx)
    .tickFormat((d, i) => tickLabels[i]).tickSize(6).tickSizeOuter(0));
xAxis.select(".domain").attr("stroke", "#000").attr("stroke-width", 1.2);
xAxis.selectAll(".tick line").attr("stroke", "#000");
xAxis.selectAll(".tick text")
  .attr("font-family", font)
  .attr("font-size", 16).attr("fill", "#000")
  .attr("x", 0).attr("y", 0).attr("dy", null)
  .attr("text-anchor", "end")
  .attr("transform", "translate(-1,29) rotate(-45)");

// titles
svg.append("text")
  .attr("x", 590).attr("y", 23)
  .attr("text-anchor", "middle")
  .attr("font-family", font)
  .attr("font-size", 19.5).attr("font-weight", "bold")
  .text("Reference runs");

svg.append("text")
  .attr("x", (plotLeft + plotRight) / 2).attr("y", 700)
  .attr("text-anchor", "middle")
  .attr("font-family", font)
  .attr("font-size", 16).attr("font-weight", "bold")
  .text("Time");

svg.append("text")
  .attr("transform", `translate(26.5,${(plotTop + plotBottom) / 2}) rotate(-90)`)
  .attr("text-anchor", "middle")
  .attr("font-family", font)
  .attr("font-size", 16).attr("font-weight", "bold")
  .text("Water Demand");
</script>
</body>
</html>
